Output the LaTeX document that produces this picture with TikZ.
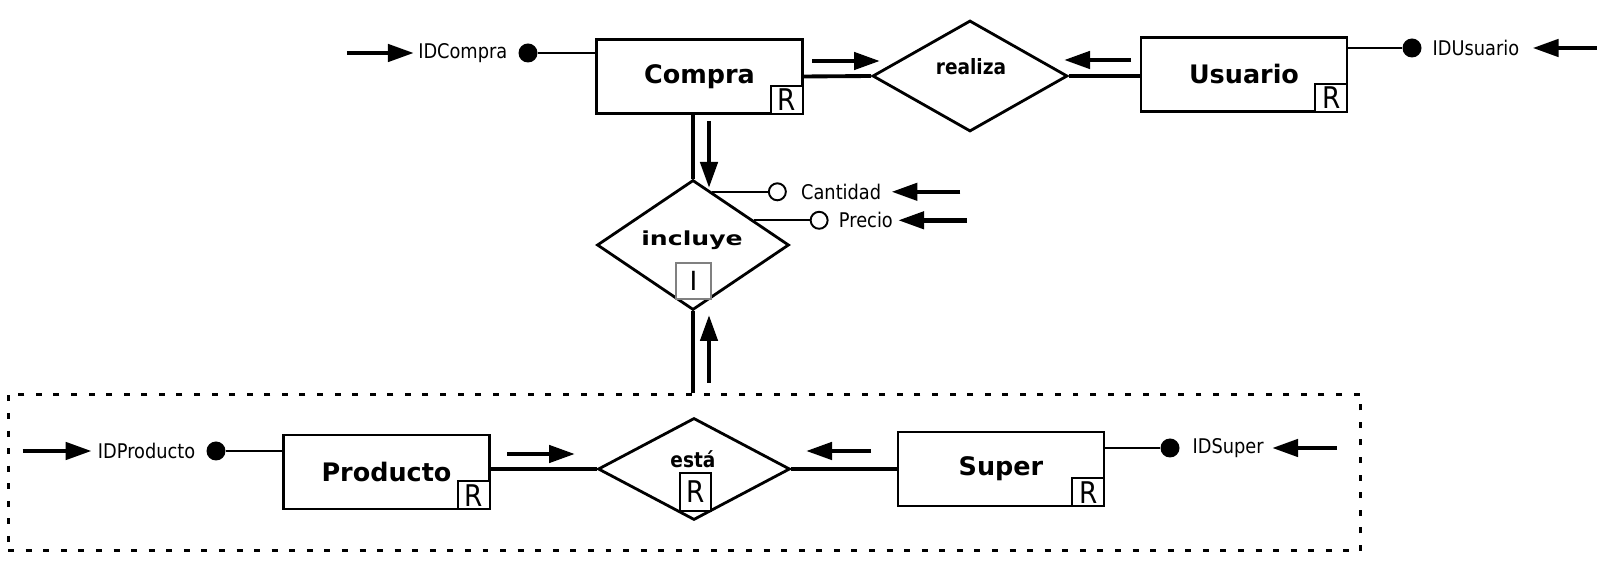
\documentclass[tikz,border=0pt]{standalone}
\usepackage{fontspec}
\setmainfont{DejaVu Sans}
\newfontfamily\condfont{DejaVu Sans}[FakeStretch=0.88]
\newfontfamily\widefont{DejaVu Sans}[FakeStretch=1.3]
\usetikzlibrary{shapes.geometric,arrows.meta,positioning}

\begin{document}
\begin{tikzpicture}[x=0.02cm,y=-0.02cm,
	entidad/.style={draw,line width=1.6pt,minimum width=4.12cm,minimum height=1.48cm,inner sep=0pt,font=\fontsize{14.5}{16}\selectfont\bfseries},
	relacion/.style={draw,diamond,line width=1.6pt,inner sep=0pt},
	reltexto/.style={inner sep=0pt,font=\condfont\bfseries\fontsize{12}{14}\selectfont},
	marca/.style={draw,fill=white,line width=1.2pt,minimum width=0.64cm,minimum height=0.56cm,inner sep=0pt,font=\condfont\fontsize{17}{18}\selectfont},
	union/.style={line width=2.2pt},
	atrib/.style={line width=1.1pt},
	clave/.style={circle,fill,minimum size=0.38cm,inner sep=0pt},
	opcional/.style={circle,draw,line width=1.1pt,fill=white,minimum size=0.34cm,inner sep=0pt},
	nombre/.style={inner sep=0pt,font=\condfont\fontsize{11.5}{13}\selectfont},
	flecha/.style={line width=2.6pt,-{Triangle[length=0.52cm,width=0.34cm]}}
	]

	\useasboundingbox (0,0) rectangle (1607,573);

	\node[draw,dash pattern=on 3.4pt off 6.6pt,line width=1.7pt,minimum width=27.06cm,minimum height=3.14cm,inner sep=0pt] (agregado) at (684.5,472.5) {};

	\node[entidad] (compra) at (699.5,76.5) {Compra};
	\node[marca,anchor=south east] (compraR) at (compra.south east) {R};
	\node[entidad] (usuario) at (1244,74.5) {Usuario};
	\node[marca,anchor=south east] (usuarioR) at (usuario.south east) {R};
	\node[entidad] (producto) at (386.5,472) {Producto};
	\node[marca,anchor=south east] (productoR) at (producto.south east) {R};
	\node[entidad] (super) at (1001,469) {Super};
	\node[marca,anchor=south east] (superR) at (super.south east) {R};

	\node[relacion,minimum width=3.9cm,minimum height=2.22cm] (realiza) at (970,76) {};
	\node[reltexto] (realizaTxt) at (971,67) {realiza};
	\node[relacion,minimum width=3.84cm,minimum height=2.6cm] (incluye) at (693,245) {};
	\node[inner sep=0pt,font=\widefont\bfseries\fontsize{11}{13}\selectfont] (incluyeTxt) at (692,240) {incluye};
	\node[draw=gray,fill=white,line width=0.6pt,minimum width=0.7cm,minimum height=0.72cm,inner sep=0pt,font=\fontsize{15}{16}\selectfont] (incluyeI) at (693.5,281) {I};
	\node[relacion,minimum width=3.84cm,minimum height=2.04cm] (esta) at (694,469) {};
	\node[reltexto] (estaTxt) at (693,459) {está};
	\node[marca,minimum width=0.62cm,minimum height=0.76cm] (estaR) at (695.5,492) {R};

	\draw[union] (compra.east) -- (realiza.west);
	\draw[union] (realiza.east) -- (realiza.east -| usuario.west);
	\draw[union] (incluye.north) -- (incluye.north |- compra.south);
	\draw[union] (incluye.south) -- (incluye.south |- agregado.north);
	\draw[union] (esta.west) -- (esta.west -| producto.east);
	\draw[union] (esta.east) -- (esta.east -| super.west);

	\draw[flecha] (812,61) -- (880,61);
	\draw[flecha] (1131,60) -- (1064,60);
	\draw[flecha] (709,121) -- (709,188);
	\draw[flecha] (709,383) -- (709,315);
	\draw[flecha] (507,454) -- (575,454);
	\draw[flecha] (871,451) -- (806,451);

	\node[clave] (dotCompra) at (528,53) {};
	\draw[atrib] (dotCompra) -- (dotCompra -| compra.west);
	\node[nombre,left=0.21cm of dotCompra] (idcompra) {IDCompra};
	\draw[flecha] ([xshift=-1.42cm]idcompra.west) -- ([xshift=-0.08cm]idcompra.west);

	\node[clave] (dotUsuario) at (1412,48) {};
	\draw[atrib] (dotUsuario) -- (dotUsuario -| usuario.east);
	\node[nombre,right=0.21cm of dotUsuario] (idusuario) {IDUsuario};
	\draw[flecha] ([xshift=1.54cm]idusuario.east) -- ([xshift=0.26cm]idusuario.east);

	\node[opcional] (dotCantidad) at ([xshift=1.3cm]incluye.70) {};
	\draw[atrib] (incluye.70) -- (dotCantidad);
	\node[nombre,right=0.28cm of dotCantidad] (cantidad) {Cantidad};
	\draw[flecha] ([xshift=1.58cm]cantidad.east) -- ([xshift=0.2cm]cantidad.east);

	\node[opcional] (dotPrecio) at ([xshift=1.3cm]incluye.22) {};
	\draw[atrib] (incluye.22) -- (dotPrecio);
	\node[nombre,right=0.2cm of dotPrecio] (precio) {Precio};
	\draw[flecha] ([xshift=1.48cm]precio.east) -- ([xshift=0.1cm]precio.east);

	\node[clave] (dotProducto) at (216,451) {};
	\draw[atrib] (dotProducto) -- (dotProducto -| producto.west);
	\node[nombre,left=0.21cm of dotProducto] (idproducto) {IDProducto};
	\draw[flecha] ([xshift=-1.5cm]idproducto.west) -- ([xshift=-0.12cm]idproducto.west);

	\node[clave] (dotSuper) at (1170,448) {};
	\draw[atrib] (dotSuper) -- (dotSuper -| super.east);
	\node[nombre,right=0.25cm of dotSuper] (idsuper) {IDSuper};
	\draw[flecha] ([xshift=1.46cm]idsuper.east) -- ([xshift=0.16cm]idsuper.east);

\end{tikzpicture}
\end{document}
